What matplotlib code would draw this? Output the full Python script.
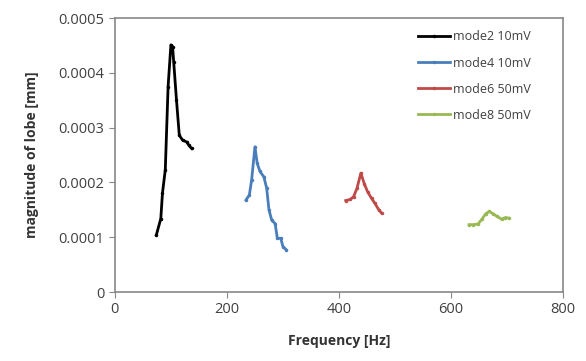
import matplotlib
matplotlib.use("Agg")
import matplotlib.pyplot as plt

freq_mode2 = [74, 82, 85, 90, 95, 100, 103, 105, 110, 115, 121, 128, 132, 137]
mag_mode2 = [0.000104, 0.000134, 0.000181, 0.000223, 0.000375, 0.000451, 0.000448, 0.00042,
             0.00035, 0.000286, 0.000277, 0.000274, 0.000268, 0.000262]

freq_mode4 = [234, 240, 244, 250, 254, 259, 266, 271, 275, 280, 286, 290, 296, 300, 306]
mag_mode4 = [0.000168, 0.000177, 0.000204, 0.000265, 0.000235, 0.00022, 0.00021, 0.000189,
             0.00015, 0.000131, 0.000125, 0.000098, 0.000098, 0.000083, 0.000077]

freq_mode6 = [412, 420, 426, 432, 439, 445, 451, 458, 464, 471, 476]
mag_mode6 = [0.000167, 0.000169, 0.000174, 0.000189, 0.000217, 0.000198, 0.000183, 0.000171,
             0.000162, 0.00015, 0.000144]

freq_mode8 = [632, 640, 648, 655, 662, 668, 675, 682, 690, 697, 703]
mag_mode8 = [0.000123, 0.000123, 0.000124, 0.000133, 0.000143, 0.000147, 0.000143, 0.000138,
             0.000133, 0.000136, 0.000135]

labels = ["mode2 10mV", "mode4 10mV", "mode6 50mV", "mode8 50mV"]
colors = ["#000000", "#4a7ebb", "#be4b48", "#98b954"]

x_ticks = [0, 200, 400, 600, 800]
y_ticks = [0, 0.0001, 0.0002, 0.0003, 0.0004, 0.0005]
y_tick_labels = ["0", "0.0001", "0.0002", "0.0003", "0.0004", "0.0005"]

plt.rcParams['font.family'] = ['Open Sans', 'DejaVu Sans']

fig = plt.figure(figsize=(5.86, 3.61), dpi=100)
ax = fig.add_axes([0.196, 0.191, 0.765, 0.759])

series = [(freq_mode2, mag_mode2), (freq_mode4, mag_mode4),
          (freq_mode6, mag_mode6), (freq_mode8, mag_mode8)]
for (f, m), lab, c in zip(series, labels, colors):
    ax.plot(f, m, color=c, lw=2, marker='o', ms=1.5, label=lab)

ax.set_xlim(0, 800)
ax.set_ylim(0, 0.0005)
ax.set_xticks(x_ticks)
ax.set_yticks(y_ticks)
ax.set_yticklabels(y_tick_labels)
ax.tick_params(colors='#888888', labelcolor='#404040', labelsize=10.5, length=4, direction='out')
for s in ax.spines.values():
    s.set_color('#888888')
    s.set_linewidth(1.2)

ax.set_xlabel("Frequency [Hz]", fontsize=10, fontweight='bold', color='#333333', labelpad=12)
ax.set_ylabel("magnitude of lobe [mm]", fontsize=10, fontweight='bold', color='#333333', labelpad=14)

leg = ax.legend(loc='upper left', frameon=False, fontsize=9, handlelength=2.6,
                handletextpad=0.2, labelspacing=1.05, borderpad=0, borderaxespad=0,
                bbox_to_anchor=(0.676, 0.955))
for t in leg.get_texts():
    t.set_color('#404040')

fig.savefig("out.png", dpi=100)
